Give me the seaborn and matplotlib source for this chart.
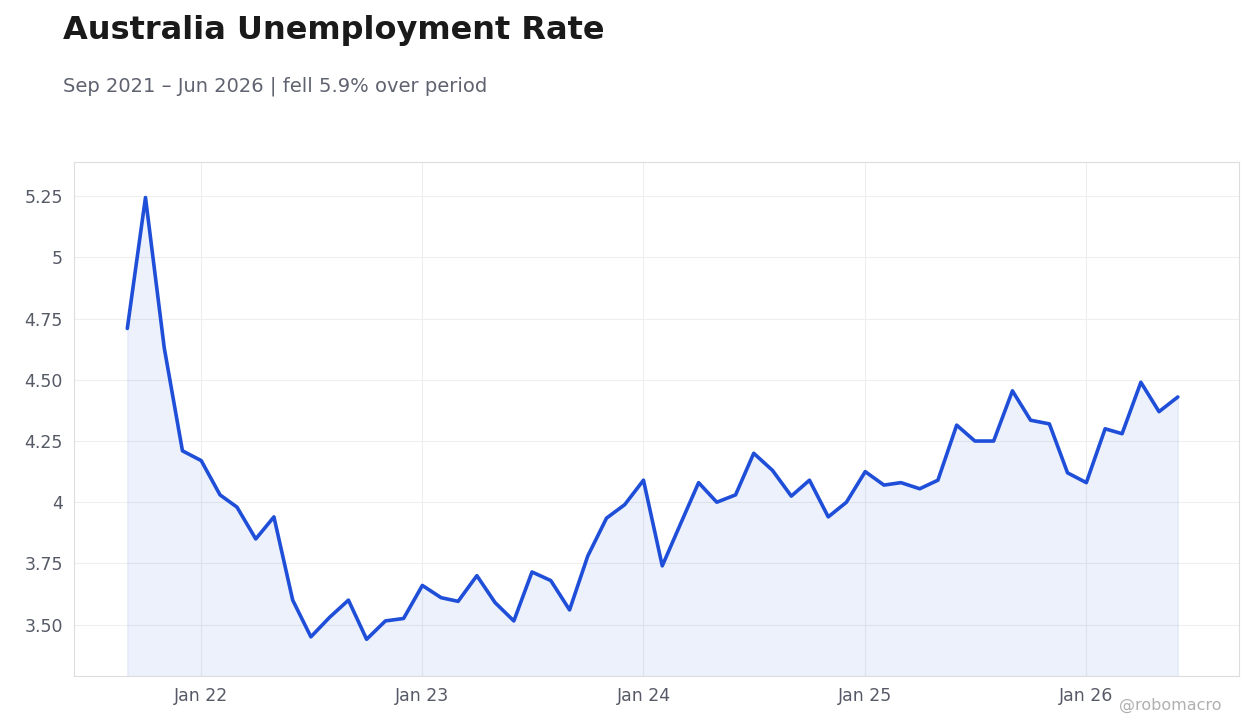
import matplotlib
matplotlib.use("Agg")
import matplotlib.pyplot as plt
import matplotlib.dates as mdates
import matplotlib.ticker as mticker
import seaborn as sns
import pandas as pd
import numpy as np

start = "2021-09-01"
values = [4.71, 5.245, 4.63, 4.21, 4.17, 4.03, 3.98, 3.85, 3.94, 3.60, 3.45, 3.53,
          3.60, 3.44, 3.515, 3.525, 3.66, 3.61, 3.595, 3.70, 3.59, 3.515, 3.715, 3.68,
          3.56, 3.78, 3.935, 3.99, 4.09, 3.74, 3.905, 4.08, 4.00, 4.03, 4.20, 4.13,
          4.025, 4.09, 3.94, 4.00, 4.125, 4.07, 4.08, 4.055, 4.09, 4.315, 4.25, 4.25,
          4.455, 4.335, 4.32, 4.12, 4.08, 4.30, 4.28, 4.49, 4.37, 4.43]
dates = pd.date_range(start, periods=len(values), freq="MS")
df = pd.DataFrame({"date": dates, "rate": values})

sns.set_theme(style="white")
plt.rcParams['font.family'] = ['DejaVu Sans']
fig = plt.figure(figsize=(12.6, 7.28), dpi=100)
ax = fig.add_axes([74/1260, 1-676/728, (1239-74)/1260, (676-162)/728])

color = "#1f4fd8"
sns.lineplot(data=df, x="date", y="rate", ax=ax, color=color, linewidth=2.6)
ax.fill_between(df["date"], df["rate"], 3.0, color=color, alpha=0.08)

ax.set_ylim(3.29, 5.39)
ax.set_xlim(pd.Timestamp("2021-06-05"), pd.Timestamp("2026-09-10"))
ax.set_yticks([3.5, 3.75, 4, 4.25, 4.5, 4.75, 5, 5.25])
def fmt(v, p):
    s = f"{v:.2f}"
    return s.rstrip("0").rstrip(".") if s.endswith("00") else s
ax.yaxis.set_major_formatter(mticker.FuncFormatter(fmt))
ax.xaxis.set_major_locator(mdates.YearLocator(month=1))
ax.xaxis.set_major_formatter(mdates.DateFormatter("Jan %y"))
ax.set_xlabel(""); ax.set_ylabel("")
ax.grid(True, color="#eeeeee", linewidth=0.8)
for s in ax.spines.values():
    s.set_color("#dddddd"); s.set_linewidth(0.8)
ax.tick_params(axis="both", labelsize=12.5, colors="#555a66", length=0, pad=8)

fig.text(63/1260, 1-30/728, "Australia Unemployment Rate", fontsize=23, fontweight="bold",
         color="#1a1a1a", va="center")
fig.text(63/1260, 1-86/728, "Sep 2021 – Jun 2026 | fell 5.9% over period", fontsize=14,
         color="#5f6370", va="center")
fig.text(1222/1260, 1-705/728, "@robomacro", fontsize=11.5, color="#b0b0b0", ha="right", va="center")

fig.savefig("out.png", dpi=100)
